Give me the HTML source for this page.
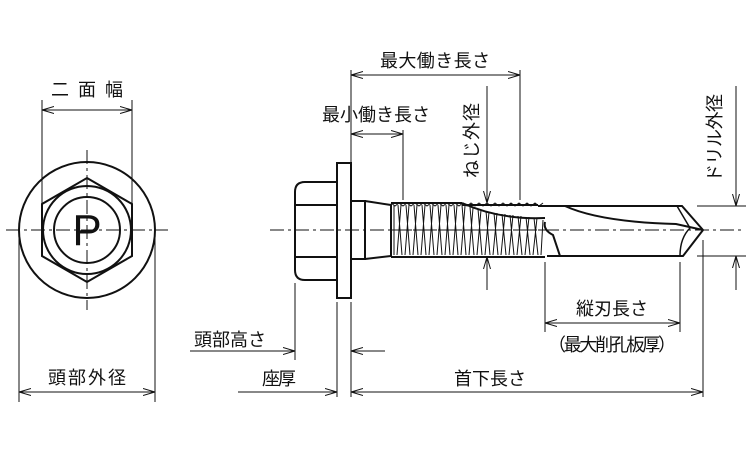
<!DOCTYPE html>
<html><head><meta charset="utf-8"><style>
html,body{margin:0;padding:0;background:#fff;}
svg{display:block;}
text{font-family:"Liberation Sans","Noto Sans CJK JP",sans-serif;font-size:18px;fill:#111;}
</style></head><body>
<svg width="750" height="450" viewBox="0 0 750 450" xmlns="http://www.w3.org/2000/svg">
<defs>
<marker id="a" markerWidth="12" markerHeight="8" refX="12" refY="4" orient="auto-start-reverse" markerUnits="userSpaceOnUse">
<path d="M0,0.5 L12,4 L0,7.5" fill="none" stroke="#111" stroke-width="1"/></marker>
</defs>
<g stroke="#111" fill="none">
<g stroke-width="1" stroke-dasharray="14,4,3,4">
<line x1="6" y1="230" x2="168" y2="230"/>
<line x1="87" y1="150" x2="87" y2="310"/>
</g>
<g stroke-width="2">
<circle cx="87" cy="230" r="68"/>
<polygon points="87,178 132,204 132,256 87,282 42,256 42,204"/>
<circle cx="87" cy="230" r="44"/>
<circle cx="87" cy="230" r="33"/>
</g>
<g stroke-width="1">
<line x1="42" y1="100" x2="42" y2="204"/>
<line x1="132" y1="100" x2="132" y2="204"/>
<line x1="42" y1="110" x2="132" y2="110" marker-start="url(#a)" marker-end="url(#a)"/>
<line x1="19" y1="232" x2="19" y2="402"/>
<line x1="155" y1="232" x2="155" y2="402"/>
<line x1="19" y1="392" x2="155" y2="392" marker-start="url(#a)" marker-end="url(#a)"/>
</g>
<line x1="270" y1="230" x2="742" y2="230" stroke-width="1" stroke-dasharray="14,4,3,4"/>
<g stroke-width="2">
<path d="M337,182 L305,182 Q295,182 295,192 L295,270 Q295,280 305,280 L337,280"/>
<line x1="295" y1="205" x2="337" y2="205"/>
<line x1="295" y1="257" x2="337" y2="257"/>
<rect x="337" y="163" width="14" height="135"/>
<path d="M351,201 L365,201 L365,259 L351,259"/>
<path d="M365,201 L391,205 L391,256 L365,259"/>
<path d="M391,203 L462,203"/>
<path d="M391,257 L545,257"/>
<path d="M462,205 L538,205"/>
<path d="M462,203 Q500,220 545,218"/>
<path d="M538,206 L682,206 L703,230 L683,256 L547,256"/>
<path d="M565,206 Q600,222 676,224 L703,230"/>
<path d="M545,222 Q543,230 553,235 L560,256"/>
<path d="M677,206 L690,228 Q680,238 680,256" stroke-width="1.5"/>
</g>
<g stroke-width="1">
<path d="M394,205 L394,255 M398,205 L402,255 M406,205 L410,255 M414,205 L418,255 M422,205 L426,255 M430,205 L434,255 M438,205 L442,255 M446,205 L450,255 M454,205 L458,255 M462,205 L466,255 M470,207 L474,255 M478,209 L482,255 M486,211 L490,255 M494,213 L498,255 M502,214 L506,255 M510,215 L514,255 M518,216 L522,255 M526,217 L530,255 M534,218 L538,255"/>
<path d="M401,205 L397,255 M409,205 L405,255 M417,205 L413,255 M425,205 L421,255 M433,205 L429,255 M441,205 L437,255 M449,205 L445,255 M457,205 L453,255 M465,206 L461,255 M473,208 L469,255 M481,210 L477,255 M489,212 L485,255 M497,213 L493,255 M505,214 L501,255 M513,215 L509,255 M521,216 L517,255 M529,217 L525,255 M537,218 L533,255 M543,220 L541,255"/>
<path d="M391,203 l4,3 l4,-3 l4,3 l4,-3 l4,3 l4,-3 l4,3 l4,-3 l4,3 l4,-3 l4,3 l4,-3 l4,3 l4,-3 l4,3 l4,-3 l4,3 l4,-3 l4,3 l4,-3 l4,3 l4,-3 l4,3 l4,-3 l4,3 l4,-3 l4,3 l4,-3 l4,3 l4,-3 l4,3 l4,-3 l4,3 l4,-3 l4,3 l4,-3 l4,3 l4,-3"/>
<line x1="391" y1="230" x2="545" y2="230" stroke-dasharray="14,4,3,4"/>
</g>
<g stroke-width="1">
<line x1="351" y1="70" x2="351" y2="163"/>
<line x1="520" y1="70" x2="520" y2="200"/>
<line x1="403" y1="130" x2="403" y2="200"/>
<line x1="351" y1="75" x2="520" y2="75" marker-start="url(#a)" marker-end="url(#a)"/>
<line x1="351" y1="134" x2="403" y2="134" marker-start="url(#a)" marker-end="url(#a)"/>
<line x1="487" y1="86" x2="487" y2="203" marker-end="url(#a)"/>
<line x1="487" y1="290" x2="487" y2="257" marker-end="url(#a)"/>
<line x1="736" y1="86" x2="736" y2="206" marker-end="url(#a)"/>
<line x1="736" y1="290" x2="736" y2="256" marker-end="url(#a)"/>
<line x1="697" y1="206" x2="746" y2="206"/>
<line x1="697" y1="256" x2="746" y2="256"/>
<line x1="545" y1="262" x2="545" y2="332"/>
<line x1="680" y1="262" x2="680" y2="332"/>
<line x1="545" y1="323" x2="680" y2="323" marker-start="url(#a)" marker-end="url(#a)"/>
<line x1="703" y1="240" x2="703" y2="397"/>
<line x1="295" y1="283" x2="295" y2="360"/>
<line x1="337" y1="302" x2="337" y2="397"/>
<line x1="351" y1="302" x2="351" y2="397"/>
<line x1="190" y1="351" x2="295" y2="351" marker-end="url(#a)"/>
<line x1="385" y1="351" x2="351" y2="351" marker-end="url(#a)"/>
<line x1="238" y1="392" x2="337" y2="392" marker-end="url(#a)"/>
<line x1="351" y1="392" x2="703" y2="392" marker-start="url(#a)" marker-end="url(#a)"/>
</g>
</g>
<text x="87" y="245" text-anchor="middle" style="font-size:44px">P</text>
<text x="87" y="96" text-anchor="middle" textLength="72">二面幅</text>
<text x="87" y="384" text-anchor="middle" textLength="78">頭部外径</text>
<text x="435" y="67" text-anchor="middle" textLength="110">最大働き長さ</text>
<text x="376" y="121" text-anchor="middle" textLength="108">最小働き長さ</text>
<text transform="translate(478,178) rotate(-90)" textLength="75">ねじ外径</text>
<text transform="translate(721,182) rotate(-90)" textLength="88">ドリル外径</text>
<text x="230" y="346" text-anchor="middle" textLength="72">頭部高さ</text>
<text x="279" y="385" text-anchor="middle" textLength="34">座厚</text>
<text x="490" y="385" text-anchor="middle" textLength="72">首下長さ</text>
<text x="612" y="315" text-anchor="middle" textLength="72">縦刃長さ</text>
<text x="612" y="351" text-anchor="middle" textLength="128">（最大削孔板厚）</text>
</svg>
</body></html>
